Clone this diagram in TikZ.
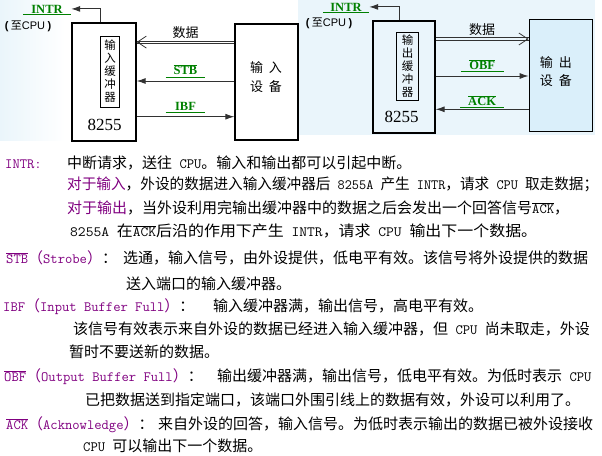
\documentclass[tikz,border=0pt]{standalone}
\usepackage{fontspec}
\usepackage{graphicx}
\newfontfamily\cjk{Noto Sans CJK SC}
\newfontfamily\tms{Liberation Serif}
\newfontfamily\arl{Liberation Sans}
\usetikzlibrary{arrows.meta}
\definecolor{sigGreen}{RGB}{0,128,0}
\definecolor{notePurple}{RGB}{128,0,128}
\definecolor{paleBlue}{RGB}{234,245,251}
\definecolor{devBlue}{RGB}{218,239,250}
\definecolor{wire}{RGB}{50,50,50}
\newcommand{\ovl}[1]{$\overline{\mbox{#1}}$}
\newcommand{\lt}[1]{{\ttfamily\fontsize{14.2}{17}\selectfont#1}}
\newcommand{\fitto}[2]{\resizebox{#1}{\height}{#2}}
\tikzset{
  box/.style={draw, line width=1.3pt, inner sep=0pt},
  buf/.style={draw, line width=0.9pt, inner sep=0pt, align=center, font=\cjk\fontsize{11.5}{13}\selectfont},
  num/.style={font=\tms\fontsize{17}{20}\selectfont},
  devtext/.style={align=center, font=\cjk\fontsize{13}{19}\selectfont},
  lab/.style={text=sigGreen, font=\tms\bfseries\fontsize{12.5}{14}\selectfont, inner xsep=0pt, inner ysep=1.5pt},
  tocpu/.style={inner sep=0pt, font=\cjk\fontsize{11}{13}\selectfont},
  datlab/.style={inner sep=1pt, font=\cjk\fontsize{13}{15}\selectfont},
  uline/.style={draw=sigGreen, line width=0.9pt},
  sig/.style={draw=wire, line width=0.9pt},
  tip/.style={-{Latex[length=9pt,width=6pt]}},
  dat/.style={draw=wire, line width=0.8pt},
  barb/.style={draw=wire, line width=0.8pt, -{Straight Barb[length=9pt,width=12pt]}},
  note/.style={anchor=base west, inner sep=0pt, font=\cjk\fontsize{15}{17}\selectfont},
  hint/.style={note, text=notePurple}
}
\begin{document}
\begin{tikzpicture}[x=1pt,y=-1pt]
    \path[use as bounding box, clip] (0,0) rectangle (602,455);
    \shade[left color=paleBlue, right color=white] (0,0) rectangle (65,140);
    \fill[paleBlue] (298,0) rectangle (595,135);
    % input side
    \node[box, minimum width=64, minimum height=118] (chipL) at (104,82) {};
    \node[buf, minimum width=19, minimum height=71] (bufL) at (110,71.5) {输\\入\\缓\\冲\\器};
    \node[num] (numL) at (104.5,125) {8255};
    \node[box, minimum width=63, minimum height=116] (devL) at (266.5,82) {};
    \node[devtext] (devLtxt) at (266,77.5) {输\hspace{6pt}入\\设\hspace{6pt}备};
    \node[lab, minimum width=48, anchor=south] (intrL) at (47,14.7) {INTR};
    \node[tocpu] (cpuL) at (28,26) {{\arl\bfseries(} 至{\arl CPU} {\arl\bfseries)}};
    \draw[sig, tip] ([xshift=-4pt]chipL.north) |- (intrL.east);
    \draw[dat] (devL.west |- 0,40.9) -- node[datlab, above=1pt] (datL) {数据} (chipL.east |- 0,40.9)
               (devL.west |- 0,43.3) -- (chipL.east |- 0,43.3);
    \draw[barb] ([xshift=3pt]chipL.east |- 0,42.1) -- (chipL.east |- 0,42.1);
    \draw[sig, tip] (devL.west |- 0,81) -- node[lab, above=4pt, minimum width=39] (stb) {\ovl{STB}} (chipL.east |- 0,81);
    \draw[sig, tip] (chipL.east |- 0,116.7) -- node[lab, above=4.7pt, minimum width=39] (ibf) {IBF} (devL.west |- 0,116.7);
    % output side
    \node[box, minimum width=62, minimum height=112] (chipR) at (404,77) {};
    \node[buf, minimum width=21.5, minimum height=68] (bufR) at (407.5,66) {输\\出\\缓\\冲\\器};
    \node[num] (numR) at (401.7,116.7) {8255};
    \node[box, fill=devBlue, minimum width=63.5, minimum height=112.4] (devR) at (561,75.5) {};
    \node[devtext, font=\cjk\fontsize{13}{18}\selectfont] (devRtxt) at (555.8,72) {输\hspace{6pt}出\\设\hspace{6pt}备};
    \node[lab, minimum width=46, anchor=south] (intrR) at (346,12.7) {INTR};
    \node[tocpu] (cpuR) at (329,23) {{\arl\bfseries(} 至{\arl CPU} {\arl\bfseries)}};
    \draw[sig, tip] ([xshift=-5pt]chipR.north) |- (intrR.east);
    \draw[dat] (chipR.east |- 0,37.8) -- node[datlab, above=1pt] (datR) {数据} (devR.west |- 0,37.8)
               (chipR.east |- 0,40.2) -- (devR.west |- 0,40.2);
    \draw[barb] ([xshift=-3pt]devR.west |- 0,39) -- (devR.west |- 0,39);
    \draw[sig, tip] (chipR.east |- 0,76) -- node[lab, above=4.3pt, minimum width=42] (obf) {\ovl{OBF}} (devR.west |- 0,76);
    \draw[sig, tip] (devR.west |- 0,109.3) -- node[lab, above=1.6pt, minimum width=43] (ack) {\ovl{ACK}} (chipR.east |- 0,109.3);
    \foreach \n in {intrL,stb,ibf,intrR,obf,ack}
        \draw[uline] (\n.south west) -- (\n.south east);
    % notes
    \node[hint] (nIntr) at (5,168.7) {\lt{INTR:}};
    \node[note] (tIntr1) at (67,168.7) {中断请求，送往\lt{\ CPU}。输入和输出都可以引起中断。};
    \node[note] (tIntr2) at (67,189.7) {\fitto{531pt}{\textcolor{notePurple}{对于输入}，外设的数据进入输入缓冲器后\lt{\ 8255A\ }产生\lt{\ INTR}，请求\lt{\ CPU\ }取走数据；}};
    \node[note] (tIntr3) at (67,213.2) {\textcolor{notePurple}{对于输出}，当外设利用完输出缓冲器中的数据之后会发出一个回答信号\lt{\ovl{ACK}}，};
    \node[note] (tIntr4) at (70,236.7) {\fitto{467pt}{\lt{8255A\ }在\lt{\ovl{ACK}}后沿的作用下产生\lt{\ INTR}，请求\lt{\ CPU\ }输出下一个数据。}};
    \node[hint] (nStb) at (6,263.7) {\lt{\ovl{STB}}（\lt{Strobe}）\textcolor{black}{：}};
    \node[note] (tStb1) at (123,263.7) {选通，输入信号，由外设提供，低电平有效。该信号将外设提供的数据};
    \node[note] (tStb2) at (126,289) {送入端口的输入缓冲器。};
    \node[hint] (nIbf) at (3,311.7) {\lt{IBF}（\lt{Input Buffer Full}）\textcolor{black}{：}};
    \node[note] (tIbf1) at (213,311.7) {输入缓冲器满，输出信号，高电平有效。};
    \node[note] (tIbf2) at (73,334.7) {该信号有效表示来自外设的数据已经进入输入缓冲器，但\lt{\ CPU\ }尚未取走，外设};
    \node[note] (tIbf3) at (69,357.7) {暂时不要送新的数据。};
    \node[hint] (nObf) at (4,381.7) {\lt{\ovl{OBF}}（\lt{Output Buffer Full}）\textcolor{black}{：}};
    \node[note] (tObf1) at (217,381.7) {输出缓冲器满，输出信号，低电平有效。为低时表示\lt{\ CPU}};
    \node[note] (tObf2) at (85,405.7) {已把数据送到指定端口，该端口外围引线上的数据有效，外设可以利用了。};
    \node[hint] (nAck) at (6,429.7) {\lt{\ovl{ACK}}（\lt{Acknowledge}）\textcolor{black}{：}};
    \node[note] (tAck1) at (158,429.7) {来自外设的回答，输入信号。为低时表示输出的数据已被外设接收};
    \node[note] (tAck2) at (83,451.7) {\lt{CPU\ }可以输出下一个数据。};
\end{tikzpicture}
\end{document}
